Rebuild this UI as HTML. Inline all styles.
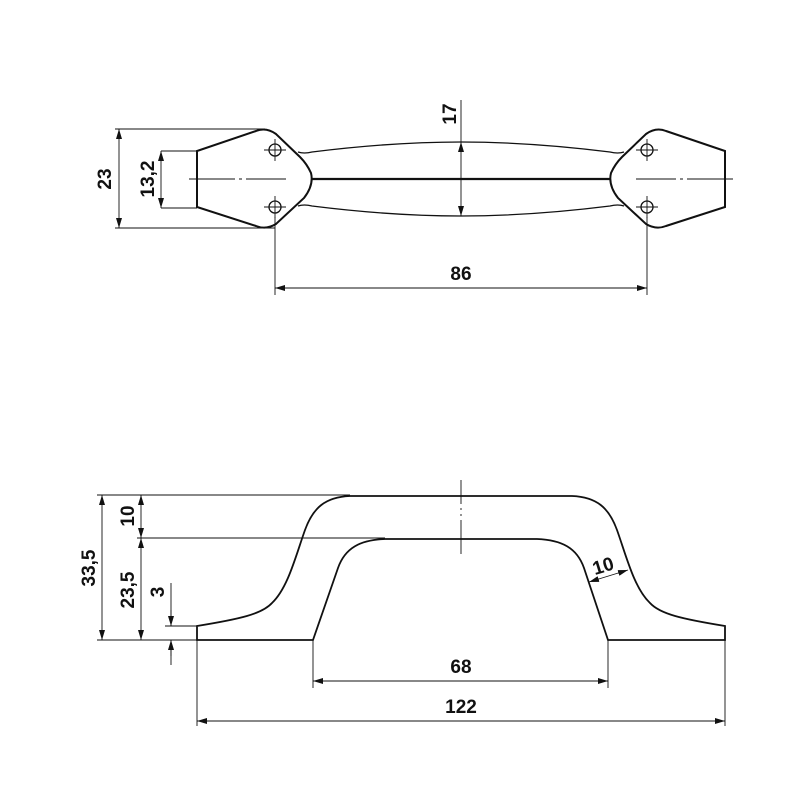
<!DOCTYPE html>
<html><head><style>body{margin:0;background:#fff}svg{display:block}text{font-family:"Liberation Sans",sans-serif;font-weight:bold;font-size:19px;fill:#111}</style></head><body>
<svg width="800" height="800" viewBox="0 0 800 800" xmlns="http://www.w3.org/2000/svg">
<defs>
<marker id="a" viewBox="0 0 10 6" refX="10" refY="3" markerWidth="10" markerHeight="6" orient="auto-start-reverse" markerUnits="userSpaceOnUse"><path d="M0,0 L10,3 L0,6 Z" fill="#111"/></marker>
</defs>
<g fill="none" stroke="#111">
<g stroke-width="2">
<path d="M197,151 L197,207 L256,226 Q266,230 276,224 L304,198 Q314,185 311,173 Q307,164 300,157 L276,134 Q266,127 256,131 Z"/>
<path d="M725,151 L725,207 L666,226 Q656,230 646,224 L618,198 Q608,185 611,173 Q615,164 622,157 L646,134 Q656,127 666,131 Z"/>
</g>
<g stroke-width="1.3">
<path d="M298,152 Q304,154 312,152 C360,146 410,142 461,142 C512,142 562,146 610,152 Q618,154 624,152"/>
<path d="M298,206 Q304,204 312,206 C360,212 410,216 461,216 C512,216 562,212 610,206 Q618,204 624,206"/>
</g>
<line x1="312" y1="179" x2="610" y2="179" stroke-width="2.2"/>
<g stroke-width="1.3">
<circle cx="275" cy="150" r="6"/><circle cx="275" cy="207" r="6"/>
<circle cx="647" cy="150" r="6"/><circle cx="647" cy="207" r="6"/>
</g>
<g stroke-width="0.9">
<path d="M264,150h22M264,207h22M636,150h22M636,207h22M275,139v22M647,139v22M275,196v22M647,196v22"/>
<path d="M189,179h46M239,179h3M246,179h40M636,179h40M680,179h3M687,179h46"/>
<path d="M115,129h150M115,228h160M161,151h36M161,208h36"/>
<line x1="119" y1="129" x2="119" y2="228" marker-start="url(#a)" marker-end="url(#a)"/>
<line x1="161" y1="151" x2="161" y2="208" marker-start="url(#a)" marker-end="url(#a)"/>
<path d="M275,217v78M647,217v78"/>
<line x1="275" y1="288" x2="647" y2="288" marker-start="url(#a)" marker-end="url(#a)"/>
<path d="M461,100v42"/>
<line x1="461" y1="142" x2="461" y2="216" marker-start="url(#a)" marker-end="url(#a)"/>
</g>
<path stroke-width="1.8" d="M197,640 V626 C240,619 262,614 272,603 C288,588 296,555 305,530 C313,508 325,497 350,496 L572,496 C597,497 609,508 617,530 C626,555 634,588 650,603 C660,614 682,619 725,626 V640 H608 L584,568 C577,548 562,540 537,539 L385,539 C360,540 345,548 338,568 L313,640 Z"/>
<g stroke-width="0.9">
<path d="M97,495h253M137,538h248M97,640h100M165,626h32"/>
<path d="M461,480v24M461,508v2M461,514v2M461,520v34"/>
<line x1="102" y1="495" x2="102" y2="640" marker-start="url(#a)" marker-end="url(#a)"/>
<line x1="141" y1="495" x2="141" y2="538" marker-start="url(#a)" marker-end="url(#a)"/>
<line x1="141" y1="538" x2="141" y2="640" marker-start="url(#a)" marker-end="url(#a)"/>
<path d="M171,583v43M171,640v25"/>
<line x1="171" y1="610" x2="171" y2="626" marker-end="url(#a)"/>
<line x1="171" y1="656" x2="171" y2="640" marker-end="url(#a)"/>
<path d="M197,640v86M725,640v86M313,640v48M608,640v48"/>
<line x1="313" y1="681" x2="608" y2="681" marker-start="url(#a)" marker-end="url(#a)"/>
<line x1="197" y1="721" x2="725" y2="721" marker-start="url(#a)" marker-end="url(#a)"/>
<line x1="589" y1="582" x2="628" y2="570" marker-start="url(#a)" marker-end="url(#a)"/>
</g>
</g>
<text x="111" y="179" transform="rotate(-90 111 179)" text-anchor="middle">23</text>
<text x="154" y="179" transform="rotate(-90 154 179)" text-anchor="middle">13,2</text>
<text x="461" y="280" text-anchor="middle">86</text>
<text x="456" y="114" transform="rotate(-90 456 114)" text-anchor="middle">17</text>
<text x="95" y="568" transform="rotate(-90 95 568)" text-anchor="middle">33,5</text>
<text x="134" y="516" transform="rotate(-90 134 516)" text-anchor="middle">10</text>
<text x="134" y="590" transform="rotate(-90 134 590)" text-anchor="middle">23,5</text>
<text x="164" y="592" transform="rotate(-90 164 592)" text-anchor="middle">3</text>
<text x="461" y="673" text-anchor="middle">68</text>
<text x="461" y="713" text-anchor="middle">122</text>
<text x="605" y="572" transform="rotate(-17 605 572)" text-anchor="middle">10</text>
</svg>
</body></html>
